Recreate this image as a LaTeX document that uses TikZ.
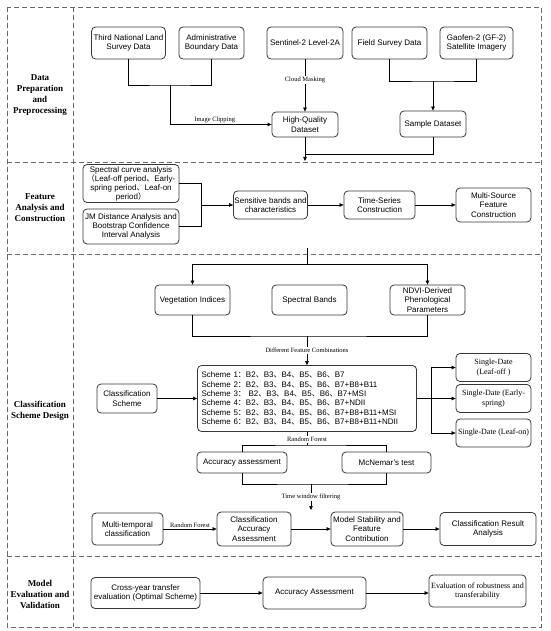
\documentclass[tikz,border=0pt]{standalone}
\usepackage{fontspec}
\setmainfont{Liberation Serif}
\setsansfont{Liberation Sans}
\newfontfamily\cjkfont{Noto Sans CJK SC}
\newcommand{\cjktext}[1]{{\cjkfont #1}}
\usetikzlibrary{arrows.meta}
\definecolor{boxline}{RGB}{55,55,55}
\definecolor{frameline}{RGB}{105,105,105}
\tikzset{
  procbox/.style={draw=boxline, line width=0.8pt, rounded corners=4pt, align=center, inner sep=2pt, fill=white, font=\sffamily\fontsize{8}{9.4}\selectfont},
  serifbox/.style={procbox, font=\rmfamily\fontsize{8}{9.8}\selectfont},
  seclabel/.style={align=center, font=\rmfamily\bfseries\fontsize{9}{11}\selectfont},
  edgelabel/.style={font=\rmfamily\fontsize{6.5}{7}\selectfont, inner sep=1pt},
  link/.style={draw=black, line width=0.6pt},
  flow/.style={link, -{Triangle[length=4pt, width=3.5pt]}},
  sectionframe/.style={draw=frameline, line width=0.7pt, dash pattern=on 5pt off 3pt}
}

\begin{document}
\begin{tikzpicture}[x=1pt, y=-1pt]
  \useasboundingbox (0,0) rectangle (550,631);

  % section frames
  \draw[sectionframe] (7,7) rectangle (541,627);
  \draw[sectionframe] (73,7) -- (73,627);
  \draw[sectionframe] (7,162) -- (541,162);
  \draw[sectionframe] (7,254) -- (541,254);
  \draw[sectionframe] (7,556) -- (541,556);

  % section labels
  \node[seclabel] (lbldata) at (40,95) {Data\\Preparation\\and\\Preprocessing};
  \node[seclabel] (lblfeature) at (40,208) {Feature\\Analysis and\\Construction};
  \node[seclabel] (lblscheme) at (40,411) {Classification\\Scheme Design};
  \node[seclabel] (lblmodel) at (40,594) {Model\\Evaluation and\\Validation};

  % data preparation
  \node[procbox, minimum width=73pt, minimum height=32pt] (landsurvey) at (128.5,43) {Third National Land\\Survey Data};
  \node[procbox, minimum width=65pt, minimum height=32pt] (boundary) at (211.5,43) {Administrative\\Boundary Data};
  \node[procbox, minimum width=76pt, minimum height=32pt] (sentinel) at (305,43) {Sentinel-2 Level-2A};
  \node[procbox, minimum width=75pt, minimum height=32pt] (fieldsurvey) at (389.5,43) {Field Survey Data};
  \node[procbox, minimum width=73pt, minimum height=32pt] (gaofen) at (476.5,43) {Gaofen-2 (GF-2)\\Satellite Imagery};
  \node[procbox, minimum width=66pt, minimum height=25pt] (hqdata) at (305,124.5) {High-Quality\\Dataset};
  \node[procbox, minimum width=66pt, minimum height=26pt] (sampledata) at (433,124) {Sample Dataset};

  \coordinate (clipjoin) at (170,85);
  \draw[link] (landsurvey.south) |- (clipjoin) -| (boundary.south);
  \draw[flow] (clipjoin) |- (hqdata.west) node[edgelabel, above, pos=0.72] {Image Clipping};
  \draw[flow] (sentinel.south) -- (hqdata.north) node[edgelabel, fill=white, pos=0.4] {Cloud Masking};
  \coordinate (samplejoin) at (433,81);
  \draw[link] (fieldsurvey.south) |- (samplejoin) -| (gaofen.south);
  \draw[flow] (samplejoin) -- (sampledata.north);
  \coordinate (datajoin) at (305,154);
  \coordinate (featin) at (305,161);
  \draw[link] (sampledata.south) |- (datajoin);
  \draw[flow] (hqdata.south) -- (featin);

  % feature analysis
  \node[procbox, minimum width=96pt, minimum height=38pt, inner ysep=1pt, font=\sffamily\fontsize{8}{9}\selectfont] (spectral) at (131,183.5) {Spectral curve analysis\\\cjktext{（}Leaf-off period\cjktext{、}Early-\\spring period\cjktext{、}Leaf-on\\period\cjktext{）}};
  \node[procbox, minimum width=96pt, minimum height=35pt] (jmdist) at (131,226.5) {JM Distance Analysis and\\Bootstrap Confidence\\Interval Analysis};
  \node[procbox, minimum width=73pt, minimum height=28pt, inner xsep=1pt] (sensitive) at (270.5,205) {Sensitive bands and\\characteristics};
  \node[procbox, minimum width=71pt, minimum height=28pt] (timeseries) at (379.5,205) {Time-Series\\Construction};
  \node[procbox, minimum width=75pt, minimum height=34pt] (multisource) at (493.5,205) {Multi-Source\\Feature\\Construction};

  \coordinate (featjoin) at (201,205);
  \draw[link] (spectral.east) -| (featjoin);
  \draw[link] (jmdist.east) -| (featjoin);
  \draw[flow] (featjoin) -- (sensitive.west);
  \draw[flow] (sensitive) -- (timeseries);
  \draw[flow] (timeseries) -- (multisource);

  % classification scheme
  \coordinate (schemein) at (307,248);
  \coordinate (schemesplit) at (307,264);
  \node[procbox, minimum width=75pt, minimum height=30pt] (vegindex) at (192.5,300) {Vegetation Indices};
  \node[procbox, minimum width=75pt, minimum height=30pt] (specbands) at (309.5,300) {Spectral Bands};
  \node[procbox, minimum width=75pt, minimum height=30pt] (ndvipheno) at (427.5,300) {NDVI-Derived\\Phenological\\Parameters};
  \draw[link] (schemein) -- (schemesplit);
  \draw[flow] (schemesplit) -| (vegindex.north);
  \draw[flow] (schemesplit) -| (ndvipheno.north);

  \node[procbox, minimum width=219pt, minimum height=66pt, align=left, text width=211pt, inner xsep=4pt, font=\sffamily\fontsize{8}{9.3}\selectfont] (schemes) at (307,398.5) {Scheme 1\cjktext{：}B2\cjktext{、}B3\cjktext{、}B4\cjktext{、}B5\cjktext{、}B6\cjktext{、}B7\\
    Scheme 2\cjktext{：}B2\cjktext{、}B3\cjktext{、}B4\cjktext{、}B5\cjktext{、}B6\cjktext{、}B7+B8+B11\\
    Scheme 3\cjktext{：} B2\cjktext{、}B3\cjktext{、}B4\cjktext{、}B5\cjktext{、}B6\cjktext{、}B7+MSI\\
    Scheme 4\cjktext{：}B2\cjktext{、}B3\cjktext{、}B4\cjktext{、}B5\cjktext{、}B6\cjktext{、}B7+NDII\\
    Scheme 5\cjktext{：}B2\cjktext{、}B3\cjktext{、}B4\cjktext{、}B5\cjktext{、}B6\cjktext{、}B7+B8+B11+MSI\\
    Scheme 6\cjktext{：}B2\cjktext{、}B3\cjktext{、}B4\cjktext{、}B5\cjktext{、}B6\cjktext{、}B7+B8+B11+NDII};
  \coordinate (combjoin) at (307,336);
  \draw[link] (vegindex.south) |- (combjoin) -| (ndvipheno.south);
  \draw[flow] (combjoin) -- (schemes.north) node[edgelabel, fill=white, midway] {Different Feature Combinations};

  \node[procbox, minimum width=60pt, minimum height=29pt] (clsscheme) at (127,398.5) {Classification\\Scheme};
  \draw[flow] (clsscheme) -- (schemes);

  \node[serifbox, minimum width=75pt, minimum height=28pt] (leafoff) at (493.5,367.5) {Single-Date\\(Leaf-off )};
  \node[serifbox, minimum width=75pt, minimum height=28pt] (earlyspring) at (493.5,398.5) {Single-Date (Early-\\spring)};
  \node[serifbox, minimum width=75pt, minimum height=28pt] (leafon) at (493.5,433) {Single-Date (Leaf-on)};
  \coordinate (datesplit) at (431,398.5);
  \draw[link] (schemes.east) -- (datesplit);
  \draw[flow] (datesplit) |- (leafoff.west);
  \draw[flow] (datesplit) -- (earlyspring.west);
  \draw[flow] (datesplit) |- (leafon.west);

  \node[procbox, minimum width=90pt, minimum height=21pt] (accassess) at (242,462.5) {Accuracy assessment};
  \node[procbox, minimum width=89pt, minimum height=21pt] (mcnemar) at (386.5,462.5) {McNemar's test};
  \coordinate (rfjoin) at (307,445);
  \draw[link] (schemes.south) -- (rfjoin) node[edgelabel, fill=white, pos=0.6] {Random Forest};
  \draw[link] (accassess.north) |- (rfjoin) -| (mcnemar.north);
  \coordinate (twjoin) at (311,484);
  \coordinate (twend) at (311,510);
  \draw[link] (accassess.south) |- (twjoin) -| (mcnemar.south);
  \draw[flow] (twjoin) -- (twend) node[edgelabel, fill=white, midway] {Time window filtering};

  \node[procbox, minimum width=71pt, minimum height=32pt] (multitemp) at (127.5,529) {Multi-temporal\\classification};
  \node[procbox, minimum width=74pt, minimum height=34pt] (clsacc) at (254,529) {Classification\\Accuracy\\Assessment};
  \node[procbox, minimum width=72pt, minimum height=34pt] (stability) at (367,529) {Model Stability and\\Feature\\Contribution};
  \node[procbox, minimum width=96pt, minimum height=33pt] (clsresult) at (488,529) {Classification Result\\Analysis};
  \draw[flow] (multitemp) -- (clsacc) node[edgelabel, above, midway] {Random Forest};
  \draw[flow] (clsacc) -- (stability);
  \draw[flow] (stability) -- (clsresult);

  % model evaluation
  \node[procbox, minimum width=109pt, minimum height=31pt] (crossyear) at (145.5,593) {Cross-year transfer\\evaluation (Optimal Scheme)};
  \node[procbox, minimum width=103pt, minimum height=32pt] (accassesstwo) at (314.5,593) {Accuracy Assessment};
  \node[serifbox, minimum width=97pt, minimum height=32pt] (robustness) at (477.5,591) {Evaluation of robustness and\\transferability};
  \draw[flow] (crossyear) -- (accassesstwo);
  \draw[flow] (accassesstwo.east) -- (accassesstwo.east -| robustness.west);
\end{tikzpicture}
\end{document}
